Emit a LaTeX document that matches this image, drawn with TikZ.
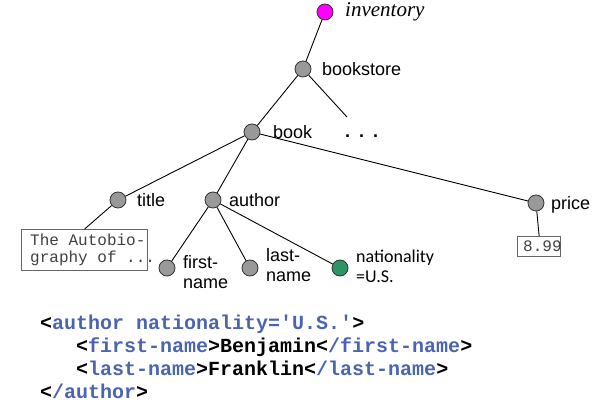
\documentclass[tikz,border=0pt]{standalone}
\usepackage{fontspec}
\setmainfont{Liberation Sans}
\newfontfamily\serifit{Liberation Serif}
\newfontfamily\codefont{Liberation Mono}[Ligatures=TeXOff]
\newfontfamily\calib{Carlito}
\definecolor{xblue}{HTML}{4A64B0}
\definecolor{nodegray}{HTML}{999999}
\definecolor{nodegreen}{HTML}{2E9463}
\definecolor{nodemag}{HTML}{FF00FF}
\definecolor{boxtext}{HTML}{404040}
\begin{document}
\begin{tikzpicture}[x=1pt,y=-1pt,
  treenode/.style={circle,draw=black!80,fill=nodegray,minimum size=16pt,inner sep=0pt,line width=0.8pt},
  lbl/.style={anchor=base west,inner sep=0pt,font=\fontsize{18}{20}\selectfont},
  edge/.style={line width=0.9pt},
  valbox/.style={draw=black!60,line width=1.3pt,inner sep=0pt,anchor=north west},
  valtext/.style={anchor=base west,inner sep=0pt,text=boxtext,font=\codefont\fontsize{16}{17}\selectfont},
  code/.style={anchor=base west,inner sep=0pt,font=\codefont\bfseries\fontsize{20}{23}\selectfont}]
\useasboundingbox (0,0) rectangle (600,406);

% tree nodes
\node[treenode,fill=nodemag] (inv) at (325,12) {};
\node[treenode] (bs) at (303,69) {};
\coordinate (more) at (347,117);
\node[treenode] (book) at (252,132) {};
\node[treenode] (title) at (118,200) {};
\node[treenode] (author) at (213,200) {};
\node[treenode] (price) at (536,203) {};
\node[treenode] (fn) at (167,268) {};
\node[treenode] (ln) at (250,268) {};
\node[treenode,fill=nodegreen] (nat) at (340,268) {};

% value boxes
\node[valbox,minimum width=126pt,minimum height=41pt] (tbox) at (21,229) {};
\node[valtext] (t1) at (30,246) {The Autobio-};
\node[valtext] (t2) at (30,263) {graphy of ...};
\node[valbox,minimum width=43pt,minimum height=20pt] (pbox) at (517,236) {};
\node[valtext] (p1) at (523,252) {8.99};

% edges
\draw[edge] (inv) -- (bs);
\draw[edge] (bs) -- (book);
\draw[edge] (bs) -- (more);
\draw[edge] (book) -- (title);
\draw[edge] (book) -- (author);
\draw[edge] (book) -- (price);
\draw[edge] (title) -- (tbox.north);
\draw[edge] (price) -- (pbox.north);
\draw[edge] (author) -- (fn);
\draw[edge] (author) -- (ln);
\draw[edge] (author) -- (nat);

% labels
\node[anchor=base west,inner sep=0pt,font=\serifit\itshape\fontsize{21}{23}\selectfont] (linv) at (345,17) {inventory};
\node[lbl] (lbs) at (322,76) {bookstore};
\node[lbl] (lbook) at (273,139) {book};
\node[lbl,font=\bfseries\fontsize{18}{20}\selectfont] (ldots) at (345,138) {.\hspace{9pt}.\hspace{9pt}.};
\node[lbl] (ltitle) at (137,207) {title};
\node[lbl] (lauthor) at (229,207) {author};
\node[lbl] (lprice) at (551,210) {price};
\node[lbl,align=left] (lfn) at (183,288) {first-\\name};
\node[lbl,align=left] (lln) at (266,281) {last-\\name};
\node[anchor=base west,inner sep=0pt,align=left,font=\calib\fontsize{18}{20}\selectfont] (lnat) at (356,283) {nationality\\=U.S.};

% code
\node[code] (c1) at (40,329) {<\textcolor{xblue}{author nationality='U.S.'}>};
\node[code] (c2) at (76,352) {<\textcolor{xblue}{first-name}>Benjamin<\textcolor{xblue}{/first-name}>};
\node[code] (c3) at (76,375) {<\textcolor{xblue}{last-name}>Franklin<\textcolor{xblue}{/last-name}>};
\node[code] (c4) at (40,398) {<\textcolor{xblue}{/author}>};
\end{tikzpicture}
\end{document}
